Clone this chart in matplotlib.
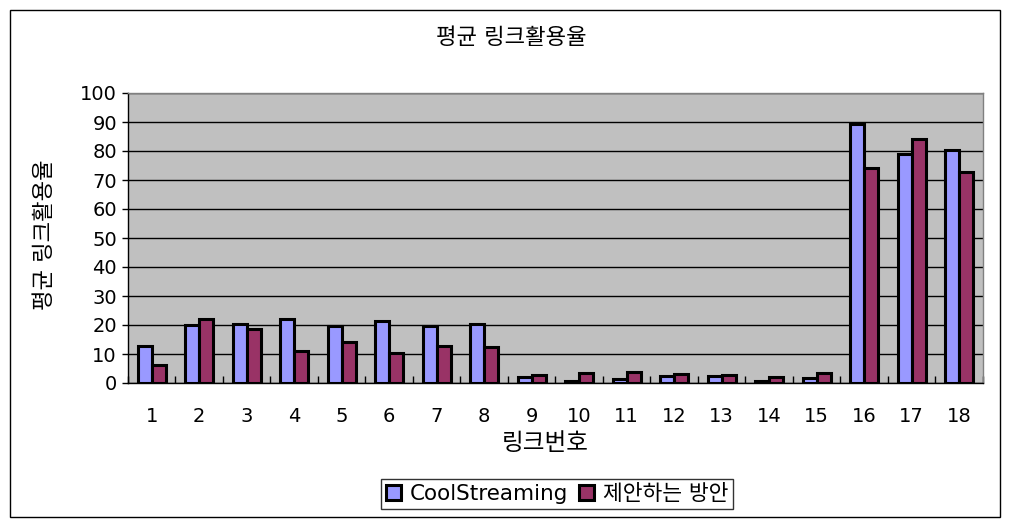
import numpy as np
import matplotlib
matplotlib.use("Agg")
from matplotlib import pyplot as plt
from matplotlib.patches import Rectangle

plt.rcParams['font.family'] = ['DejaVu Sans', 'Noto Sans CJK KR']

# data
links = [str(i) for i in range(1, 19)]
cool = [12.8, 20.0, 20.3, 22.2, 19.5, 21.5, 19.5, 20.3, 2.0, 0.7, 1.4, 2.3, 2.3, 0.8, 1.6, 89.2, 79.0, 80.3]
proposed = [6.3, 22.2, 18.5, 11.2, 14.0, 10.2, 12.9, 12.5, 2.6, 3.3, 3.7, 3.0, 2.6, 2.2, 3.3, 74.0, 84.1, 72.9]
series_names = ['CoolStreaming', '제안하는 방안']
yticks = list(range(0, 101, 10))

fig = plt.figure(figsize=(10.15, 5.3), dpi=100)
fig.patches.append(Rectangle((10/1015, 1-517/530), 990/1015, 507/530,
                             transform=fig.transFigure, fill=False,
                             edgecolor='black', linewidth=1))

ax = fig.add_axes([128/1015, 1-383/530, 855/1015, 290/530])
ax.set_facecolor('#C0C0C0')

x = np.arange(len(links))
w = 0.29
ax.bar(x - w/2, cool, width=w, color='#9999FF', edgecolor='black', linewidth=2.2,
       label=series_names[0], zorder=3)
ax.bar(x + w/2, proposed, width=w, color='#993366', edgecolor='black', linewidth=2.2,
       label=series_names[1], zorder=3)

ax.set_xlim(-0.5, len(links) - 0.5)
ax.set_ylim(0, 100)
ax.set_yticks(yticks)
ax.set_yticklabels([str(v) for v in yticks], fontsize=14)
ax.yaxis.grid(True, color='black', linewidth=1, zorder=1)
ax.set_axisbelow(True)

ax.set_xticks(x)
ax.set_xticklabels(links, fontsize=14)
ax.tick_params(axis='x', which='major', length=0, pad=17)
ax.set_xticks(np.arange(-0.5, len(links)), minor=True)
ax.tick_params(axis='x', which='minor', direction='in', length=5, width=1)
ax.tick_params(axis='y', length=4, width=1, pad=4)

for s in ax.spines.values():
    s.set_linewidth(1)
ax.spines['right'].set_color('#808080')
ax.spines['top'].set_color('#808080')

fig.text(511/1015, 1-38/530, '평균 링크활용율', ha='center', va='center', fontsize=16)
fig.text(545/1015, 1-443/530, '링크번호', ha='center', va='center', fontsize=17)
fig.text(45/1015, 1-235/530, '평균 링크활용율', ha='center', va='center',
         rotation=90, fontsize=16)

leg = fig.legend(loc='center', bbox_to_anchor=(557/1015, 1-494/530), ncol=2,
                 fontsize=15.5, frameon=True, fancybox=False, edgecolor='black',
                 handlelength=0.7, handleheight=0.7, handletextpad=0.4,
                 columnspacing=0.5, borderpad=0.25, borderaxespad=0)
leg.get_frame().set_linewidth(1)

fig.savefig('out.png', dpi=100)
